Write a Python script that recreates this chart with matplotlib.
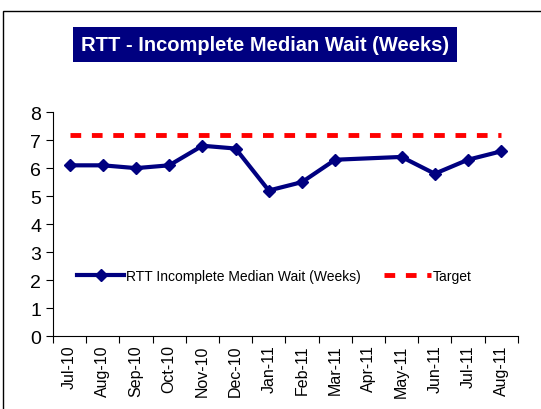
import matplotlib.pyplot as plt
import numpy as np
from matplotlib.patches import Rectangle

months = ["Jul-10", "Aug-10", "Sep-10", "Oct-10", "Nov-10", "Dec-10", "Jan-11",
          "Feb-11", "Mar-11", "Apr-11", "May-11", "Jun-11", "Jul-11", "Aug-11"]
median_wait = [6.1, 6.1, 6.0, 6.1, 6.8, 6.7, 5.2, 5.5, 6.3, np.nan, 6.4, 5.8, 6.3, 6.6]
target = [7.2] * 14

plt.rcParams['font.family'] = ['Liberation Sans', 'DejaVu Sans']

fig = plt.figure(figsize=(5.41, 4.1), dpi=100)
ax = fig.add_axes([0.098, 0.178, 0.859, 0.546])

x = np.arange(len(months))
y = np.array(median_wait)
ok = ~np.isnan(y)
ax.plot(x[ok], y[ok], color="#000080", lw=3, marker="D", ms=6.5,
        label="RTT Incomplete Median Wait (Weeks)")
ax.plot(x, target, color="red", lw=3.5, dashes=(2.2, 2.2), label="Target")

ax.set_xlim(-0.5, len(months) - 0.5)
ax.set_ylim(0, 8)
ax.set_yticks(range(9))
ax.set_xticks(np.arange(len(months) + 1) - 0.5, minor=False)
ax.set_xticklabels([])
ax.set_xticks(x, minor=True)
ax.set_xticklabels(months, minor=True, rotation=90, fontsize=11.5)
ax.tick_params(axis="x", which="major", length=5, direction="out")
ax.tick_params(axis="x", which="minor", length=0, pad=6)
ax.tick_params(axis="y", labelsize=14, length=5)
for s in ["top", "right"]:
    ax.spines[s].set_visible(False)

ax.legend(loc="center left", bbox_to_anchor=(0.025, 0.27), ncol=2, frameon=False,
          fontsize=10, handlelength=3.4, columnspacing=1.7, handletextpad=0.1)

fig.text(0.49, 0.89, "RTT - Incomplete Median Wait (Weeks)", color="white",
         fontsize=14.5, fontweight="bold", ha="center", va="center",
         bbox=dict(boxstyle="square,pad=0.4", fc="#000080", ec="none"))

fig.patches.append(Rectangle((0.006, -0.01), 1.1, 0.981, transform=fig.transFigure,
                             fill=False, ec="black", lw=1))

fig.savefig("out.png", dpi=100)
